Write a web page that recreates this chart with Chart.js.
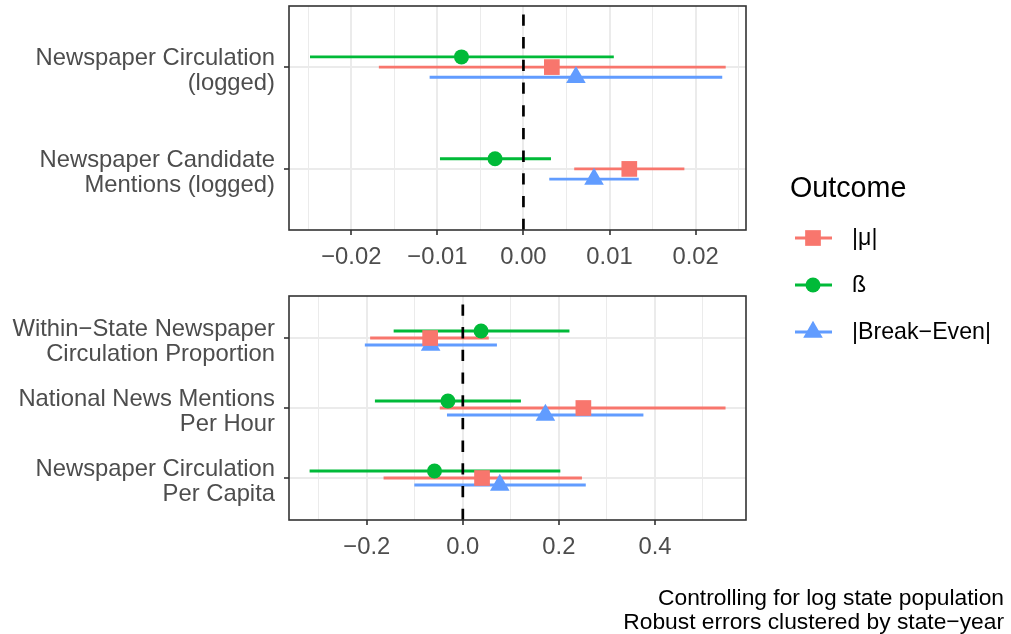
<!DOCTYPE html>
<html>
<head>
<meta charset="utf-8">
<script src="https://cdn.jsdelivr.net/npm/chart.js@4.4.0/dist/chart.umd.min.js"></script>
<style>
  html, body { margin: 0; padding: 0; background: #fff; }
  #wrap { position: relative; width: 1011px; height: 634px; }
  #wrap canvas { position: absolute; left: 0; top: 0; }
</style>
</head>
<body>
<div id="wrap">
  <canvas id="topchart" width="1011" height="634"></canvas>
  <canvas id="bottomchart" width="1011" height="634"></canvas>
</div>
<script>
var outcomes = ['|μ|', 'ß', '|Break−Even|'];
var colors = ['#F8766D', '#00BA38', '#619CFF'];
var shapes = ['rect', 'circle', 'triangle'];
var radii = [11.1, 7.5, 11.3];
var dodge = [0, -0.1, 0.1];

// each row: [estimate, low, high]
var topCats = [['Newspaper Circulation', '(logged)'], ['Newspaper Candidate', 'Mentions (logged)']];
var topMu = [[0.0033, -0.0168, 0.0235], [0.0123, 0.0059, 0.0187]];
var topBeta = [[-0.0072, -0.0248, 0.0105], [-0.0033, -0.0097, 0.0032]];
var topBreakEven = [[0.0061, -0.0109, 0.0231], [0.0082, 0.0030, 0.0134]];
var topMajor = [-0.02, -0.01, 0, 0.01, 0.02];

var bottomCats = [['Within−State Newspaper', 'Circulation Proportion'], ['National News Mentions', 'Per Hour'], ['Newspaper Circulation', 'Per Capita']];
var bottomMu = [[-0.068, -0.193, 0.054], [0.251, -0.048, 0.547], [0.040, -0.165, 0.248]];
var bottomBeta = [[0.038, -0.144, 0.222], [-0.031, -0.183, 0.121], [-0.059, -0.319, 0.203]];
var bottomBreakEven = [[-0.067, -0.204, 0.071], [0.172, -0.033, 0.376], [0.077, -0.101, 0.256]];
var bottomMajor = [-0.2, 0, 0.2, 0.4];

var captionLines = ['Controlling for log state population', 'Robust errors clustered by state−year'];

Chart.defaults.font.family = '"Liberation Sans", Arial, sans-serif';
Chart.defaults.color = '#4D4D4D';

var panelBorder = {
  id: 'panelBorder',
  afterDraw: function(chart) {
    var a = chart.chartArea, ctx = chart.ctx;
    ctx.save();
    ctx.strokeStyle = '#333333';
    ctx.lineWidth = 1.6;
    ctx.strokeRect(a.left, a.top, a.right - a.left, a.bottom - a.top);
    ctx.restore();
  }
};

function drawShape(ctx, shape, r, x, y) {
  ctx.beginPath();
  if (shape == 'rect') {
    var s = r * Math.SQRT1_2;
    ctx.rect(x - s, y - s, 2 * s, 2 * s);
  } else if (shape == 'circle') {
    ctx.arc(x, y, r, 0, Math.PI * 2);
  } else {
    ctx.moveTo(x, y - r);
    ctx.lineTo(x + r * 0.866, y + r / 2);
    ctx.lineTo(x - r * 0.866, y + r / 2);
    ctx.closePath();
  }
  ctx.fill();
}

var legendAndCaption = {
  id: 'legendAndCaption',
  afterDraw: function(chart) {
    var ctx = chart.ctx;
    ctx.save();
    ctx.fillStyle = '#000';
    ctx.textBaseline = 'middle';
    ctx.textAlign = 'left';
    ctx.font = '28.7px "Liberation Sans", Arial, sans-serif';
    ctx.fillText('Outcome', 790, 189);
    ctx.font = '23.2px "Liberation Sans", Arial, sans-serif';
    outcomes.forEach(function(name, k) {
      var y = 238 + k * 47;
      ctx.strokeStyle = colors[k];
      ctx.lineWidth = 2.8;
      ctx.beginPath();
      ctx.moveTo(795, y);
      ctx.lineTo(832, y);
      ctx.stroke();
      ctx.fillStyle = colors[k];
      drawShape(ctx, shapes[k], radii[k], 813, y);
      ctx.fillStyle = '#000';
      ctx.fillText(name, 852, y + 1);
    });
    ctx.textAlign = 'right';
    ctx.textBaseline = 'alphabetic';
    ctx.font = '22.8px "Liberation Sans", Arial, sans-serif';
    ctx.fillText(captionLines[0], 1004, 605);
    ctx.fillText(captionLines[1], 1004, 629);
    ctx.restore();
  }
};

function fmt(v, dec) {
  var s = v.toFixed(dec);
  if (Math.abs(v) < 1e-12) s = (0).toFixed(dec);
  return s.replace('-', '\u2212');
}

function makePanel(id, cats, series, major, step, xmin, xmax, dec, padTop, padBottom, extra) {
  function isMajor(v) {
    return major.some(function(m) { return Math.abs(m - v) < step / 100; });
  }
  var ymax = cats.length + 0.6;
  var datasets = [];
  series.forEach(function(rows, k) {
    var seg = [];
    rows.forEach(function(r, i) {
      seg.push({x: r[1], y: i + 1 + dodge[k]});
      seg.push({x: r[2], y: i + 1 + dodge[k]});
      seg.push({x: null, y: null});
    });
    datasets.push({
      type: 'scatter', label: outcomes[k] + ' interval', data: seg, showLine: true, spanGaps: false,
      borderColor: colors[k], borderWidth: 2.8, pointRadius: 0, order: 3
    });
    datasets.push({
      type: 'scatter', label: outcomes[k],
      data: rows.map(function(r, i) { return {x: r[0], y: i + 1 + dodge[k]}; }),
      pointStyle: shapes[k], pointRadius: radii[k], backgroundColor: colors[k],
      borderWidth: 0, order: 0
    });
  });
  // dashed reference line at zero, drawn from the bottom of the panel upward
  datasets.push({
    type: 'scatter', label: 'zero', data: [{x: 0, y: ymax}, {x: 0, y: 0.4}], showLine: true,
    borderColor: '#000', borderWidth: 2.7, borderDash: [11.3, 11.4], pointRadius: 0, order: 1
  });

  return new Chart(document.getElementById(id), {
    type: 'scatter',
    data: {datasets: datasets},
    plugins: extra ? [panelBorder, legendAndCaption] : [panelBorder],
    options: {
      responsive: false,
      animation: false,
      events: [],
      devicePixelRatio: 1,
      layout: {autoPadding: false, padding: {top: padTop, bottom: padBottom, left: 0, right: 265}},
      plugins: {legend: {display: false}, tooltip: {enabled: false}},
      scales: {
        x: {
          type: 'linear', min: xmin, max: xmax,
          border: {display: false},
          grid: {
            color: '#EBEBEB',
            lineWidth: function(c) { return c.tick && isMajor(c.tick.value) ? 2 : 1; },
            tickColor: function(c) { return c.tick && isMajor(c.tick.value) ? '#333333' : 'rgba(0,0,0,0)'; },
            tickWidth: 1.6, tickLength: 5
          },
          ticks: {
            stepSize: step, includeBounds: false, autoSkip: false, maxRotation: 0,
            font: {size: 23.8}, color: '#4D4D4D', padding: 8,
            callback: function(v) { return isMajor(v) ? fmt(v, dec) : ''; }
          },
          afterFit: function(s) { s.height = 40; s.paddingLeft = 0; s.paddingRight = 0; }
        },
        y: {
          type: 'linear', reverse: true, min: 0.4, max: ymax,
          border: {display: false},
          grid: {color: '#EBEBEB', lineWidth: 2, tickColor: '#333333', tickWidth: 1.6, tickLength: 5},
          afterBuildTicks: function(s) { s.ticks = cats.map(function(c, i) { return {value: i + 1}; }); },
          ticks: {
            autoSkip: false, font: {size: 23.8, lineHeight: '25px'}, color: '#4D4D4D', padding: 9,
            labelOffset: 4,
            callback: function(v) { return cats[Math.round(v) - 1]; }
          },
          afterFit: function(s) { s.width = 289; s.paddingTop = 0; s.paddingBottom = 0; }
        }
      }
    }
  });
}

makePanel('topchart', topCats, [topMu, topBeta, topBreakEven], topMajor, 0.005,
  -0.02724, 0.02586, 2, 6, 364, true);
makePanel('bottomchart', bottomCats, [bottomMu, bottomBeta, bottomBreakEven], bottomMajor, 0.1,
  -0.3619, 0.5896, 1, 296, 74, false);
</script>
</body>
</html>
